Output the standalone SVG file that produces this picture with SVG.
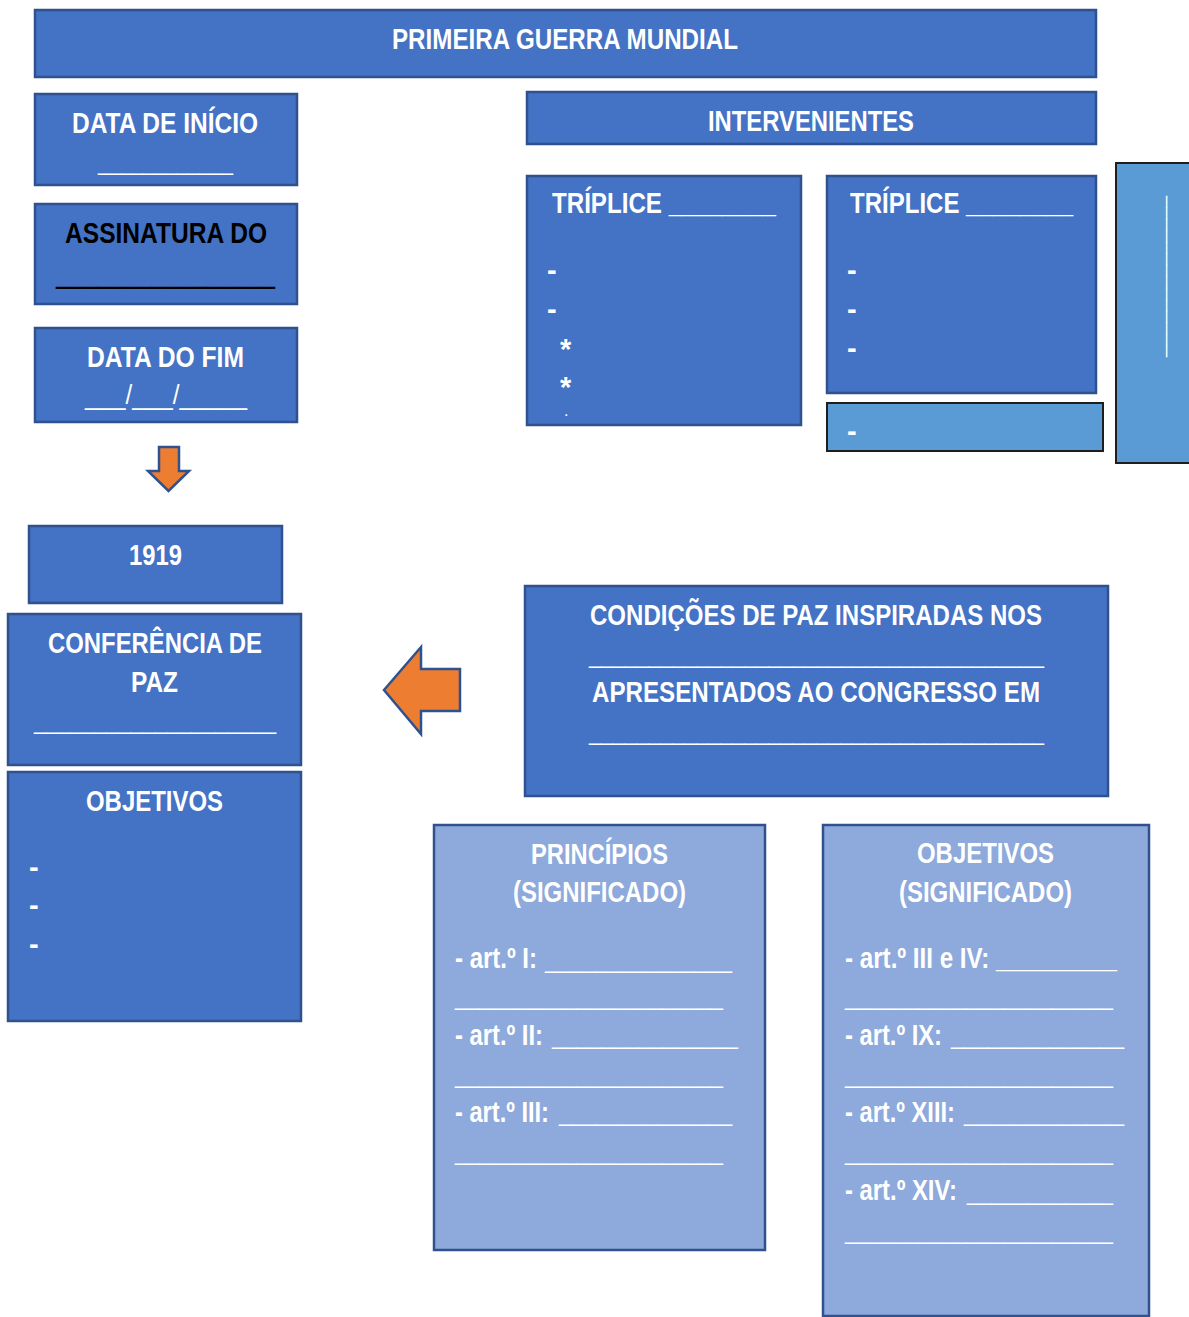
<svg xmlns="http://www.w3.org/2000/svg" width="1189" height="1317" viewBox="0 0 1189 1317">
<style>
.box{fill:#4472C4;stroke:#2F528F;stroke-width:2.5}
.lbox{fill:#8EA9DB;stroke:#2F528F;stroke-width:2.5}
.sbox{fill:#5B9BD5;stroke:#1E1E1E;stroke-width:2}
.arrow{fill:#ED7D31;stroke:#2F528F;stroke-width:2.5}
text{font-family:"Liberation Sans",Arial,sans-serif;fill:#FFFFFF}
.t{font-size:29px;font-weight:bold}
.u{font-size:24px;font-weight:normal}
.blk{fill:#000000}
</style>
<rect width="1189" height="1317" fill="#FFFFFF"/>

<g id="title">
<rect class="box" x="35" y="10" width="1061" height="67"/>
<text class="t" x="392" y="49" textLength="346" lengthAdjust="spacingAndGlyphs">PRIMEIRA GUERRA MUNDIAL</text>
</g>

<g id="intervenientes">
<rect class="box" x="527" y="92" width="569" height="52"/>
<text class="t" x="708" y="131" textLength="206" lengthAdjust="spacingAndGlyphs">INTERVENIENTES</text>
</g>

<g id="data-inicio">
<rect class="box" x="35" y="94" width="262" height="91"/>
<text class="t" x="72" y="133" textLength="186" lengthAdjust="spacingAndGlyphs">DATA DE INÍCIO</text>
<text class="u" x="98" y="170" textLength="135" lengthAdjust="spacingAndGlyphs">____________</text>
</g>

<g id="assinatura">
<rect class="box" x="35" y="204" width="262" height="100"/>
<text class="t blk" x="65" y="243" font-size="26" textLength="202" lengthAdjust="spacingAndGlyphs">ASSINATURA DO</text>
<text class="blk" x="56" y="282" font-size="36" textLength="219" lengthAdjust="spacingAndGlyphs">________________</text>
</g>

<g id="data-fim">
<rect class="box" x="35" y="328" width="262" height="94"/>
<text class="t" x="87" y="367" textLength="157" lengthAdjust="spacingAndGlyphs">DATA DO FIM</text>
<text x="85" y="404" font-size="28" textLength="162" lengthAdjust="spacingAndGlyphs">___/___/_____</text>
</g>

<g id="ano-1919">
<rect class="box" x="29" y="526" width="253" height="77"/>
<text class="t" x="129" y="565" textLength="53" lengthAdjust="spacingAndGlyphs">1919</text>
</g>

<g id="conferencia">
<rect class="box" x="8" y="614" width="293" height="151"/>
<text class="t" x="48" y="653" textLength="214" lengthAdjust="spacingAndGlyphs">CONFERÊNCIA DE</text>
<text class="t" x="131" y="692" textLength="47" lengthAdjust="spacingAndGlyphs">PAZ</text>
<text class="u" x="34" y="729" textLength="242" lengthAdjust="spacingAndGlyphs">____________________</text>
</g>

<g id="objetivos">
<rect class="box" x="8" y="772" width="293" height="249"/>
<text class="t" x="86" y="811" textLength="137" lengthAdjust="spacingAndGlyphs">OBJETIVOS</text>
<text class="t" x="29" y="877">-</text>
<text class="t" x="29" y="915">-</text>
<text class="t" x="29" y="954">-</text>
</g>

<g id="triplice-1">
<rect class="box" x="527" y="176" width="274" height="249"/>
<text class="t" x="552" y="213" textLength="224" lengthAdjust="spacingAndGlyphs">TRÍPLICE ________</text>
<text class="t" x="547" y="280">-</text>
<text class="t" x="547" y="319">-</text>
<text class="t" x="560" y="359" font-size="30">*</text>
<text class="t" x="560" y="397" font-size="30">*</text>
<text x="564" y="416" font-size="16">.</text>
</g>

<g id="triplice-2">
<rect class="box" x="827" y="176" width="269" height="217"/>
<text class="t" x="850" y="213" textLength="223" lengthAdjust="spacingAndGlyphs">TRÍPLICE ________</text>
<text class="t" x="847" y="280">-</text>
<text class="t" x="847" y="319">-</text>
<text class="t" x="847" y="358">-</text>
</g>

<g id="aliado-extra">
<rect class="sbox" x="827" y="403" width="276" height="48"/>
<text class="t" x="847" y="441">-</text>
</g>

<g id="lateral">
<rect class="sbox" x="1116" y="163" width="80" height="300"/>
<text transform="translate(1162.5,357) rotate(-90)" font-size="20" textLength="161" lengthAdjust="spacingAndGlyphs">______________</text>
</g>

<g id="condicoes">
<rect class="box" x="525" y="586" width="583" height="210"/>
<text class="t" x="590" y="625" textLength="452" lengthAdjust="spacingAndGlyphs">CONDIÇÕES DE PAZ INSPIRADAS NOS</text>
<text class="u" x="589" y="663" textLength="455" lengthAdjust="spacingAndGlyphs">______________________________________</text>
<text class="t" x="592" y="702" textLength="448" lengthAdjust="spacingAndGlyphs">APRESENTADOS AO CONGRESSO EM</text>
<text class="u" x="589" y="740" textLength="455" lengthAdjust="spacingAndGlyphs">______________________________________</text>
</g>

<g id="principios">
<rect class="lbox" x="434" y="825" width="331" height="425"/>
<text class="t" x="531" y="864" textLength="137" lengthAdjust="spacingAndGlyphs">PRINCÍPIOS</text>
<text class="t" x="513" y="902" textLength="173" lengthAdjust="spacingAndGlyphs">(SIGNIFICADO)</text>
<text class="t" y="968"><tspan x="455" textLength="82" lengthAdjust="spacingAndGlyphs">- art.º I:</tspan><tspan class="u" x="545" textLength="187" lengthAdjust="spacingAndGlyphs">_______________</tspan></text>
<text class="u" x="455" y="1005" textLength="268" lengthAdjust="spacingAndGlyphs">______________________</text>
<text class="t" y="1045"><tspan x="455" textLength="88" lengthAdjust="spacingAndGlyphs">- art.º II:</tspan><tspan class="u" x="552" dy="-1" textLength="186" lengthAdjust="spacingAndGlyphs">_______________</tspan></text>
<text class="u" x="455" y="1083" textLength="268" lengthAdjust="spacingAndGlyphs">______________________</text>
<text class="t" y="1122"><tspan x="455" textLength="94" lengthAdjust="spacingAndGlyphs">- art.º III:</tspan><tspan class="u" x="559" dy="-1" textLength="173" lengthAdjust="spacingAndGlyphs">______________</tspan></text>
<text class="u" x="455" y="1160" textLength="268" lengthAdjust="spacingAndGlyphs">______________________</text>
</g>

<g id="objetivos-significado">
<rect class="lbox" x="823" y="825" width="326" height="491"/>
<text class="t" x="917" y="863" textLength="137" lengthAdjust="spacingAndGlyphs">OBJETIVOS</text>
<text class="t" x="899" y="902" textLength="173" lengthAdjust="spacingAndGlyphs">(SIGNIFICADO)</text>
<text class="t" x="845" y="968" textLength="272" lengthAdjust="spacingAndGlyphs">- art.º III e IV: _________</text>
<text class="u" x="845" y="1005" textLength="268" lengthAdjust="spacingAndGlyphs">______________________</text>
<text class="t" y="1045"><tspan x="845" textLength="97" lengthAdjust="spacingAndGlyphs">- art.º IX:</tspan><tspan class="u" x="951" dy="-1" textLength="173" lengthAdjust="spacingAndGlyphs">______________</tspan></text>
<text class="u" x="845" y="1083" textLength="268" lengthAdjust="spacingAndGlyphs">______________________</text>
<text class="t" y="1122"><tspan x="845" textLength="110" lengthAdjust="spacingAndGlyphs">- art.º XIII:</tspan><tspan class="u" x="964" dy="-1" textLength="160" lengthAdjust="spacingAndGlyphs">_____________</tspan></text>
<text class="u" x="845" y="1160" textLength="268" lengthAdjust="spacingAndGlyphs">______________________</text>
<text class="t" y="1200"><tspan x="845" textLength="112" lengthAdjust="spacingAndGlyphs">- art.º XIV:</tspan><tspan class="u" x="967" textLength="146" lengthAdjust="spacingAndGlyphs">____________</tspan></text>
<text class="u" x="845" y="1239" textLength="268" lengthAdjust="spacingAndGlyphs">______________________</text>
</g>

<g id="connectors">
<polygon class="arrow" points="159,447 179,447 179,471 189,471 168.5,491 148,471 159,471"/>
<polygon class="arrow" points="384,690 421,647 421,669 460,669 460,711 421,711 421,734"/>
</g>
</svg>
